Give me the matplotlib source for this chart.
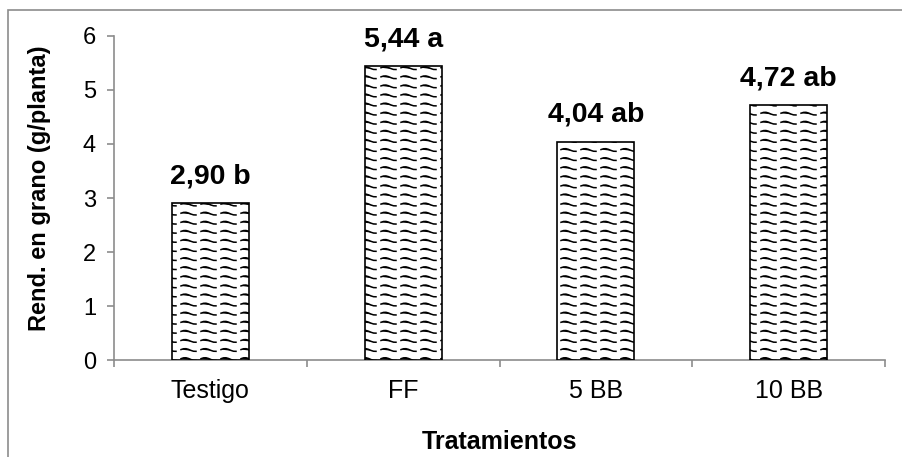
import numpy as np
import matplotlib
matplotlib.use('Agg')
import matplotlib.pyplot as plt
from matplotlib import hatch as mhatch
from matplotlib.path import Path
from matplotlib.patches import Rectangle

# Data
tratamientos = ['Testigo', 'FF', '5 BB', '10 BB']
rendimiento = [2.90, 5.44, 4.04, 4.72]
letras = ['b', 'a', 'ab', 'ab']


# wavy hatch like the Excel "wave" fill (broken waves)
class WaveHatch(mhatch.HatchPatternBase):
    def __init__(self, hatch, density):
        self.rows = hatch.count('-') * 11
        self.waves = 5
        self.seg = 7  # points per dash
        self.num_vertices = self.rows * self.waves * self.seg

    def set_vertices_and_codes(self, vertices, codes):
        n = 0
        for i in range(self.rows):
            y0 = (i + 0.5) / self.rows
            for k in range(self.waves):
                t = np.linspace(k + 0.05, k + 0.8, self.seg) / self.waves
                vertices[n:n + self.seg, 0] = t
                vertices[n:n + self.seg, 1] = y0 + 0.014 * np.sin(2 * np.pi * self.waves * t)
                codes[n] = Path.MOVETO
                codes[n + 1:n + self.seg] = Path.LINETO
                n += self.seg


mhatch._hatch_types = [WaveHatch]

plt.rcParams['font.family'] = ['Liberation Sans', 'DejaVu Sans']
plt.rcParams['hatch.linewidth'] = 1.1
plt.rcParams['hatch.color'] = '#333333'

fig = plt.figure(figsize=(9.02, 4.57), dpi=100)
ax = fig.add_axes([0.1264, 0.2112, 0.8548, 0.7107])

# outer chart frame (cropped on right and bottom)
fig.patches.append(Rectangle((8 / 902, -0.5), 2, 0.5 + (457 - 10) / 457,
                             transform=fig.transFigure, fill=False,
                             edgecolor='#8c8c8c', lw=1.2))

x = np.arange(len(tratamientos))
bars = ax.bar(x, rendimiento, width=0.4, color='white', edgecolor='black',
              linewidth=1.2, hatch='-', zorder=3)

for xi, v, l in zip(x, rendimiento, letras):
    ax.annotate(f'{v:.2f}'.replace('.', ',') + ' ' + l, (xi, v),
                xytext=(0, 10), textcoords='offset points',
                ha='center', va='bottom', fontsize=20.5, fontweight='bold')

ax.set_xlim(-0.5, len(tratamientos) - 0.5)
ax.set_ylim(0, 6)
ax.set_yticks(range(0, 7))
ax.set_xticks(x)
ax.set_xticklabels(tratamientos)
ax.set_xticks(np.arange(-0.5, len(tratamientos)), minor=True)

for s in ['top', 'right']:
    ax.spines[s].set_visible(False)
for s in ['left', 'bottom']:
    ax.spines[s].set_color('#8c8c8c')
    ax.spines[s].set_linewidth(1.2)

ax.tick_params(axis='y', length=5, width=1.2, color='#8c8c8c', labelsize=17, pad=8)
ax.tick_params(axis='x', which='major', length=0, labelsize=18, pad=13)
ax.tick_params(axis='x', which='minor', length=5, width=1.2, color='#8c8c8c')

ax.set_xlabel('Tratamientos', fontsize=18, fontweight='bold', labelpad=20)
fig.text(40 / 902, 1 - 188 / 457, 'Rend. en grano (g/planta)', rotation=90,
         ha='center', va='center', fontsize=17, fontweight='bold')

fig.savefig('out.png', dpi=100)
